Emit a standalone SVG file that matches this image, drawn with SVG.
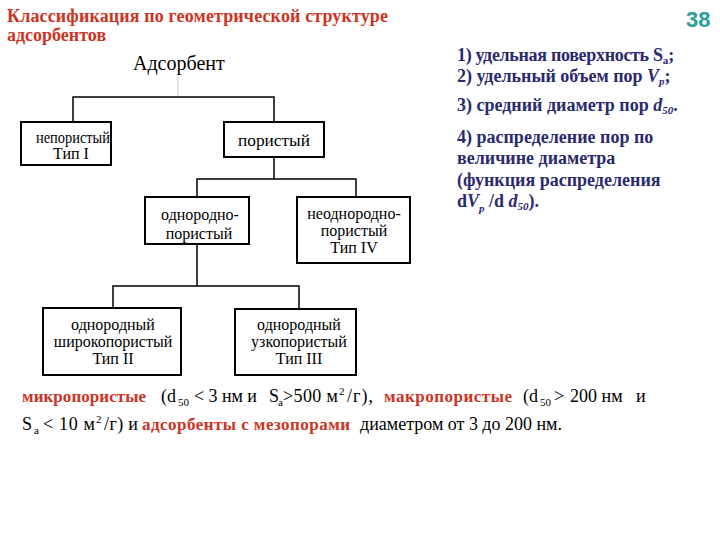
<svg xmlns="http://www.w3.org/2000/svg" width="720" height="540" viewBox="0 0 720 540">
<style>
.t{font-family:"Liberation Serif","Times New Roman",serif;font-size:16px;fill:#000;text-anchor:middle}
.box{fill:#fff;stroke:#000;stroke-width:2}
.ln{fill:none;stroke:#000;stroke-width:1.5}
.red{font-family:"Liberation Serif","Times New Roman",serif;font-weight:bold;fill:#cc3322}
.nv{font-family:"Liberation Serif","Times New Roman",serif;font-weight:bold;font-size:18px;fill:#2a2a6e}
.bt{font-family:"Liberation Serif","Times New Roman",serif;font-size:18px;fill:#000}
.sb{font-size:11px}
</style>
<rect width="720" height="540" fill="#fff"/>
<text x="7" y="22" class="red" font-size="18" textLength="381">Классификация по геометрической структуре</text>
<text x="7" y="41" class="red" font-size="18">адсорбентов</text>
<text x="686" y="27" font-family="Liberation Sans,Arial,sans-serif" font-weight="bold" font-size="22" fill="#2a9d9a">38</text>
<text x="133" y="70" font-family="Liberation Serif,serif" font-size="20" fill="#000">Адсорбент</text>
<g id="connectors">
<line x1="178" y1="76" x2="178" y2="97" stroke="#ddd" stroke-width="1.5"/>
<polyline class="ln" points="73,122 73,97 274,97 274,122"/>
<polyline class="ln" points="274,157 274,179"/>
<polyline class="ln" points="197,197 197,179 356,179 356,197"/>
<polyline class="ln" points="197,244 197,286"/>
<polyline class="ln" points="113,308 113,286 299,286 299,309"/>
</g>
<g id="n-nonporous"><rect class="box" x="21" y="122" width="90" height="43"/><text class="t" x="73" y="143" textLength="74" lengthAdjust="spacingAndGlyphs">непористый</text><text class="t" x="71" y="159">Тип I</text></g>
<g id="n-porous"><rect class="box" x="224" y="122" width="100" height="35"/><text class="t" x="274" y="146" textLength="72" lengthAdjust="spacingAndGlyphs">пористый</text></g>
<g id="n-homo"><rect class="box" x="145" y="197" width="104" height="47"/><text class="t" x="200" y="220">однородно-</text><text class="t" x="199" y="239">пористый</text></g>
<g id="n-hetero"><rect class="box" x="297" y="197" width="113" height="66"/><text class="t" x="354" y="219">неоднородно-</text><text class="t" x="354" y="236">пористый</text><text class="t" x="354" y="253">Тип IV</text></g>
<g id="n-wide"><rect class="box" x="43" y="308" width="138" height="67"/><text class="t" x="113" y="330">однородный</text><text class="t" x="113" y="347">широкопористый</text><text class="t" x="113" y="364">Тип II</text></g>
<g id="n-narrow"><rect class="box" x="235" y="309" width="121" height="66"/><text class="t" x="299" y="330">однородный</text><text class="t" x="299" y="347">узкопористый</text><text class="t" x="299" y="364">Тип III</text></g>
<text class="nv" x="457" y="61"><tspan textLength="206">1) удельная поверхность S</tspan><tspan class="sb" dy="3">а</tspan><tspan dy="-3">;</tspan></text>
<text class="nv" x="457" y="82">2) удельный объем пор <tspan font-style="italic">V</tspan><tspan class="sb" font-style="italic" dy="3">p</tspan><tspan dy="-3">;</tspan></text>
<text class="nv" x="457" y="111">3) средний диаметр пор <tspan font-style="italic">d</tspan><tspan class="sb" font-style="italic" dy="3">50</tspan><tspan dy="-3">.</tspan></text>
<text class="nv" x="457" y="143">4) распределение пор по</text>
<text class="nv" x="457" y="164">величине диаметра</text>
<text class="nv" x="457" y="186">(функция распределения</text>
<text class="nv" x="457" y="207">d<tspan font-style="italic">V</tspan><tspan class="sb" font-style="italic" dy="5">p</tspan><tspan dy="-5"> /d </tspan><tspan font-style="italic">d</tspan><tspan class="sb" font-style="italic" dy="3">50</tspan><tspan dy="-3">).</tspan></text>
<g id="footnote">
<text class="red" x="22" y="402" font-size="17" textLength="124">микропористые</text>
<text class="bt" x="161" y="402">(d</text>
<text class="bt sb" x="178" y="406">50</text>
<text class="bt" x="194" y="402" textLength="63">&lt; 3 нм и</text>
<text class="bt" x="269" y="402">S</text>
<text class="bt sb" x="278" y="406">a</text>
<text class="bt" x="283" y="402" textLength="55">&gt;500 м</text>
<text class="bt sb" x="339" y="395">2</text>
<text class="bt" x="347" y="402" textLength="26">/г),</text>
<text class="red" x="384" y="402" font-size="17" textLength="128">макропористые</text>
<text class="bt" x="523" y="402">(d</text>
<text class="bt sb" x="540" y="406">50</text>
<text class="bt" x="554" y="402">&gt;</text>
<text class="bt" x="570" y="402">200 нм</text>
<text class="bt" x="636" y="402">и</text>
<text class="bt" x="22" y="430">S</text>
<text class="bt sb" x="34" y="434">a</text>
<text class="bt" x="43" y="430" textLength="52">&lt; 10 м</text>
<text class="bt sb" x="96" y="423">2</text>
<text class="bt" x="104" y="430" textLength="34">/г) и</text>
<text class="red" x="142" y="430" font-size="17" textLength="208">адсорбенты с мезопорами</text>
<text class="bt" x="360" y="430" textLength="202">диаметром от 3 до 200 нм.</text>
</g>
</svg>
